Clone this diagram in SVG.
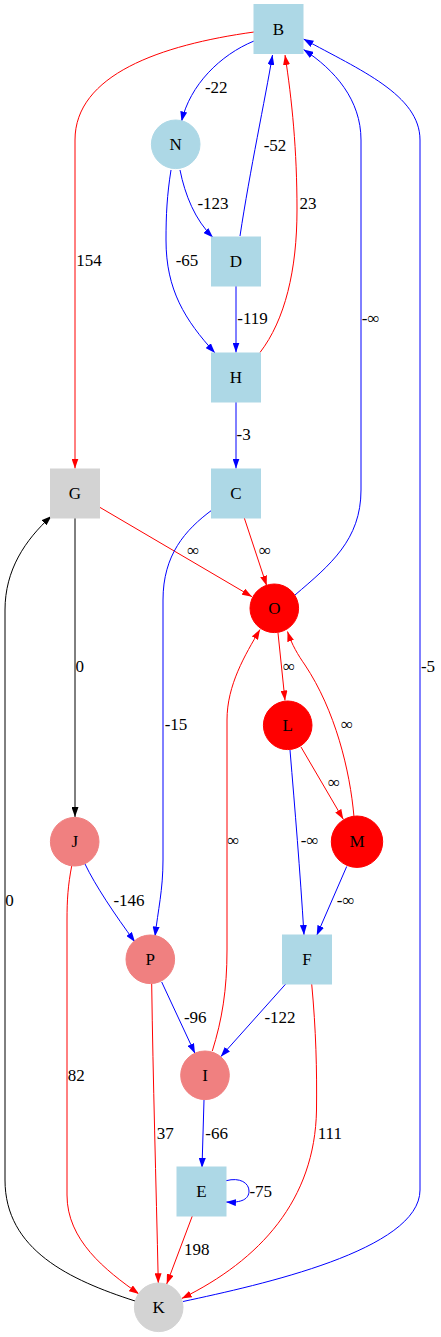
<svg xmlns="http://www.w3.org/2000/svg" width="441" height="1337" viewBox="0 0 441 1337">
<style>
text{font-family:"Liberation Serif","Times New Roman",serif;font-size:17px;fill:#000}
.n text{text-anchor:middle}
.lb{fill:#add8e6;stroke:#add8e6}
.lg{fill:#d3d3d3;stroke:#d3d3d3}
.lc{fill:#f08080;stroke:#f08080}
.rd{fill:#ff0000;stroke:#ff0000}
.e path{fill:none;stroke-width:1}
.b{stroke:#0000ff;marker-end:url(#ab)}
.r{stroke:#ff0000;marker-end:url(#ar)}
.k{stroke:#000000;marker-end:url(#ak)}
.lbl text{text-anchor:middle}
</style>
<defs>
<marker id="ab" viewBox="0 0 10 7" refX="10" refY="3.5" markerWidth="10" markerHeight="7" markerUnits="userSpaceOnUse" orient="auto"><path d="M0,0 L10,3.5 L0,7 z" fill="#0000ff"/></marker>
<marker id="ar" viewBox="0 0 10 7" refX="10" refY="3.5" markerWidth="10" markerHeight="7" markerUnits="userSpaceOnUse" orient="auto"><path d="M0,0 L10,3.5 L0,7 z" fill="#ff0000"/></marker>
<marker id="ak" viewBox="0 0 10 7" refX="10" refY="3.5" markerWidth="10" markerHeight="7" markerUnits="userSpaceOnUse" orient="auto"><path d="M0,0 L10,3.5 L0,7 z" fill="#000000"/></marker>
</defs>
<rect width="441" height="1337" fill="#fff"/>
<g id="edges" class="e">
<path class="b" d="M254,41 C220,55 190,85 181.5,121.5"/>
<path class="r" d="M254,32 C160,45 75,75 75,140 L75,468.5"/>
<path class="b" d="M240,236 C250,170 265,100 272.5,55"/>
<path class="r" d="M260,352.5 C285,320 297,270 297,210 C297,150 292,100 285,55"/>
<path class="b" d="M295,595 C330,565 361,540 361,490 L361,140 C361,100 335,70 303.5,49.5"/>
<path class="b" d="M183,1301.5 C260,1285 420,1250 420,1190 L420,140 C420,95 360,70 303.5,39"/>
<path class="b" d="M180,170 C185,195 195,220 213,237.5"/>
<path class="b" d="M171,170 C167,195 166,215 166,240 C166,290 185,320 215,353"/>
<path class="b" d="M236,286 L236,352.5"/>
<path class="b" d="M236,402 L236,468.5"/>
<path class="r" d="M99.3,507 L252,596.7"/>
<path class="r" d="M244.3,518 L266.7,585.7"/>
<path class="b" d="M212,510 C185,530 163,555 163,600 L163,860 C163,890 158,910 155,936.5"/>
<path class="k" d="M75,518 L75,817"/>
<path class="k" d="M135,1301 C70,1280 5,1250 5,1180 L5,610 C5,570 25,540 51.5,516"/>
<path class="r" d="M278,633 L285,700.5"/>
<path class="r" d="M354,817 C350,770 335,710 305,665 C298,655 292,645 287.5,631.5"/>
<path class="r" d="M212.3,1051 C222,1020 227,990 227,950 L227,720 C227,685 245,655 260,629.5"/>
<path class="r" d="M301,747 L343.3,819.3"/>
<path class="b" d="M290,750 C295,810 300,870 304,935"/>
<path class="b" d="M346.7,866.5 L316.7,935.5"/>
<path class="b" d="M85,864 C95,885 115,915 135,942"/>
<path class="r" d="M71.7,866 C68,885 67,900 67,920 L67,1195 C67,1240 105,1270 139,1294"/>
<path class="b" d="M161.7,982 L195,1053.5"/>
<path class="r" d="M151.7,984 C153,1080 156,1180 158.3,1283.3"/>
<path class="b" d="M285.7,984 L220.7,1056.7"/>
<path class="r" d="M311.7,984 C316,1030 317,1070 316.5,1110 C315,1200 260,1260 181.7,1298.5"/>
<path class="b" d="M204,1100 L202,1168"/>
<path class="b" d="M226,1180.7 C240,1177 249,1183 249,1191 C249,1199 242,1203 226,1202"/>
<path class="r" d="M192.3,1216 L166.7,1284"/>
</g>
<g id="edge-labels" class="lbl">
<text x="216.3" y="92.5">-22</text>
<text x="275" y="150.5">-52</text>
<text x="213" y="208.5">-123</text>
<text x="308" y="208.5">23</text>
<text x="89" y="266">154</text>
<text x="187" y="266">-65</text>
<text x="252.5" y="324">-119</text>
<text x="370.7" y="324">-∞</text>
<text x="243.7" y="440">-3</text>
<text x="193.3" y="556">∞</text>
<text x="265" y="556">∞</text>
<text x="79.7" y="671.5">0</text>
<text x="428" y="671.5">-5</text>
<text x="289" y="672">∞</text>
<text x="176" y="730">-15</text>
<text x="347" y="730">∞</text>
<text x="334" y="788">∞</text>
<text x="233.3" y="846">∞</text>
<text x="309.7" y="846">-∞</text>
<text x="9.5" y="906">0</text>
<text x="129" y="906">-146</text>
<text x="345.7" y="906">-∞</text>
<text x="195.3" y="1023">-96</text>
<text x="280" y="1023">-122</text>
<text x="76.3" y="1081">82</text>
<text x="165.3" y="1139">37</text>
<text x="216.7" y="1139">-66</text>
<text x="329.8" y="1139">111</text>
<text x="260.8" y="1197">-75</text>
<text x="196.8" y="1255">198</text>
</g>
<g id="node-B" class="n"><rect class="lb" x="254" y="4.5" width="49" height="49"/><text x="278.5" y="34.5">B</text></g>
<g id="node-N" class="n"><circle class="lb" cx="175.7" cy="144.3" r="24.3"/><text x="175.7" y="149.8">N</text></g>
<g id="node-D" class="n"><rect class="lb" x="211.5" y="237" width="49" height="49"/><text x="236" y="266.5">D</text></g>
<g id="node-H" class="n"><rect class="lb" x="211.5" y="353" width="49" height="49"/><text x="236" y="382.5">H</text></g>
<g id="node-G" class="n"><rect class="lg" x="50.5" y="469" width="49" height="49"/><text x="75" y="498.5">G</text></g>
<g id="node-C" class="n"><rect class="lb" x="211.5" y="469" width="49" height="49"/><text x="236" y="498.5">C</text></g>
<g id="node-O" class="n"><circle class="rd" cx="274.3" cy="608.3" r="24.3"/><text x="274.3" y="613.8">O</text></g>
<g id="node-L" class="n"><circle class="rd" cx="287.7" cy="725.3" r="24.3"/><text x="287.7" y="730.8">L</text></g>
<g id="node-M" class="n"><circle class="rd" cx="357" cy="841.7" r="25.7"/><text x="357" y="847.2">M</text></g>
<g id="node-J" class="n"><circle class="lc" cx="74.7" cy="841.7" r="24.3"/><text x="74.7" y="847.2">J</text></g>
<g id="node-P" class="n"><circle class="lc" cx="150.3" cy="959.3" r="24.3"/><text x="150.3" y="964.8">P</text></g>
<g id="node-F" class="n"><rect class="lb" x="282.5" y="935" width="49" height="49"/><text x="307" y="964.5">F</text></g>
<g id="node-I" class="n"><circle class="lc" cx="205" cy="1075.3" r="24.3"/><text x="205" y="1080.8">I</text></g>
<g id="node-E" class="n"><rect class="lb" x="177" y="1167" width="49" height="49"/><text x="201.5" y="1196.5">E</text></g>
<g id="node-K" class="n"><circle class="lg" cx="158.7" cy="1307.3" r="24.3"/><text x="158.7" y="1312.8">K</text></g>
</svg>
